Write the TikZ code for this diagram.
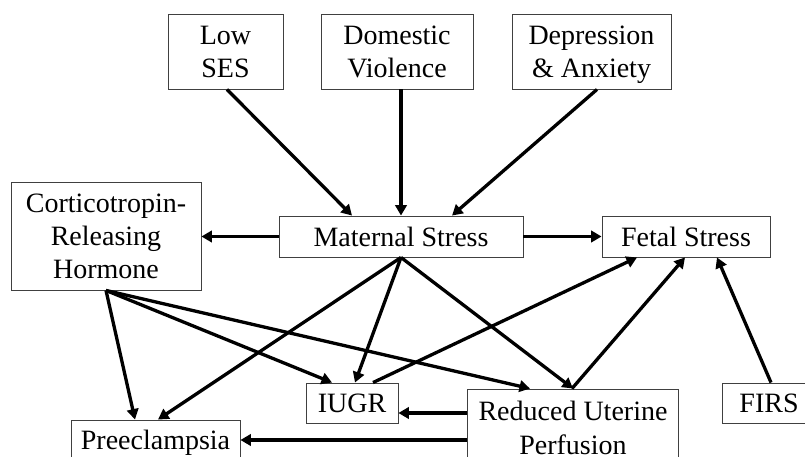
\documentclass[tikz,border=0pt]{standalone}
\usepackage{fontspec}
\setmainfont{Liberation Serif}
\usetikzlibrary{arrows.meta,calc}
% line strut giving every text line the same height and depth
\newcommand\boxline{\rule[-6.5pt]{0pt}{32pt}}
\begin{document}
\begin{tikzpicture}[x=1pt,y=-1pt,
  box/.style={draw=black!75,line width=0.9pt,fill=white,inner sep=0pt,align=center,
    font=\fontsize{28}{33.3}\selectfont},
  arr/.style={line width=3.3pt,-{Triangle[length=10.5pt,width=11.5pt]}}]
\useasboundingbox (0,0) rectangle (805,457);
\clip (0,0) rectangle (805,457);
\fill[white] (0,0) rectangle (805,457);

% risk factors
\node[box,minimum width=115,minimum height=75] (low) at (225.5,51.5) {\boxline Low\\\boxline SES};
\node[box,minimum width=152,minimum height=75] (dom) at (397,51.5) {\boxline Domestic\\\boxline Violence};
\node[box,minimum width=159,minimum height=75] (dep) at (591.5,51.5) {\boxline Depression\\\boxline\& Anxiety};

% middle row
\node[box,minimum width=190,minimum height=108] (crh) at (106,236) {\boxline Corticotropin-\\\boxline Releasing\\\boxline Hormone};
\node[box,minimum width=244,minimum height=41] (ms) at (401,236.5) {\boxline Maternal Stress};
\node[box,minimum width=168,minimum height=41] (fetal) at (686,236.5) {\boxline Fetal Stress};

% outcomes
\node[box,minimum width=92,minimum height=40] (iugr) at (352,403) {\boxline IUGR};
\node[box,minimum width=211,minimum height=78] (rup) at (573,428) {\boxline Reduced Uterine\\\boxline Perfusion};
\node[box,minimum width=169,minimum height=40] (pre) at (155.5,440) {\boxline Preeclampsia};
\node[box,minimum width=94,minimum height=40] (firs) at (769,403) {\boxline FIRS};

% into maternal stress
\draw[arr] ([xshift=1.5pt]low.south) -- ([xshift=-49pt]ms.north);
\draw[arr] ([xshift=4pt]dom.south) -- (ms.north);
\draw[arr] ([xshift=5.5pt]dep.south) -- ([xshift=51pt]ms.north);

% out of maternal stress
\draw[arr] (ms.west) -- (crh.east |- ms.west);
\draw[arr] (ms.east) -- (fetal.west);
\draw[arr] (ms.south) -- ([xshift=2.5pt]pre.north);
\draw[arr] (ms.south) -- ([xshift=3pt]iugr.north);
\draw[arr] (ms.south) -- (rup.north);

% out of CRH
\draw[arr] (crh.south) -- ([xshift=-20.5pt]pre.north);
\draw[arr] (crh.south) -- ([xshift=-20pt]iugr.north);
\draw[arr] (crh.south) -- ([xshift=-43pt]rup.north);

% into fetal stress
\draw[arr] ([xshift=21pt]iugr.north) -- ([xshift=-49pt]fetal.south);
\draw[arr] ([xshift=-1pt]rup.north) -- ([xshift=-1pt]fetal.south);
\draw[arr] ([xshift=2pt]firs.north) -- ([xshift=31pt]fetal.south);

% out of reduced uterine perfusion
\coordinate (iugrin) at ([yshift=-10pt]iugr.east);
\draw[arr] (rup.west |- iugrin) -- (iugrin);
\draw[arr] (rup.west |- pre.east) -- (pre.east);
\end{tikzpicture}
\end{document}
